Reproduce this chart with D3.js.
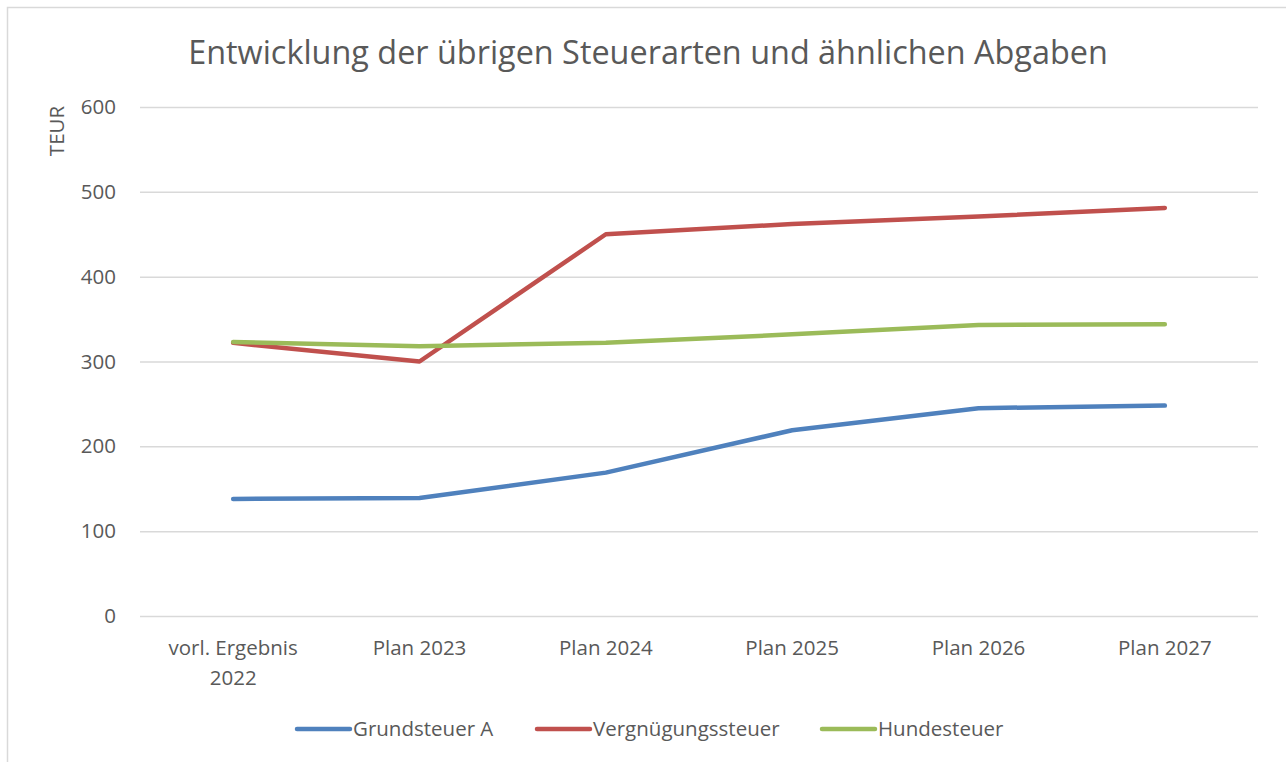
<!DOCTYPE html>
<html>
<head>
<meta charset="utf-8">
<script src="https://cdn.jsdelivr.net/npm/d3@7"></script>
<style>
  body { margin: 0; background: #fff; }
  svg { display: block; }
</style>
</head>
<body>
<svg id="chart"></svg>
<script>
// Daten
const categories = ["vorl. Ergebnis 2022", "Plan 2023", "Plan 2024", "Plan 2025", "Plan 2026", "Plan 2027"];
const grundsteuerA = [138, 139, 169, 219, 245, 248];
const vergnuegungssteuer = [322, 300, 450, 462, 471, 481];
const hundesteuer = [323, 318, 322, 332, 343, 344];
const seriesNames = ["Grundsteuer A", "Vergnügungssteuer", "Hundesteuer"];
const yTicks = [0, 100, 200, 300, 400, 500, 600];

const width = 1286, height = 762;
const margin = { left: 140, right: 28, top: 107, bottom: 146 };
const font = "'Open Sans', 'Liberation Sans', sans-serif";
const textColor = "#595959";
const colors = ["#4f81bd", "#c0504d", "#9bbb59"];

const svg = d3.select("#chart")
  .attr("width", width)
  .attr("height", height)
  .style("font-family", font);

// Rahmen
svg.append("rect")
  .attr("x", 7.5).attr("y", 7.5)
  .attr("width", 1300).attr("height", 800)
  .attr("fill", "none")
  .attr("stroke", "#d9d9d9")
  .attr("stroke-width", 1.5);

const x = d3.scaleBand()
  .domain(categories)
  .range([margin.left, width - margin.right]);

const y = d3.scaleLinear()
  .domain([0, 600])
  .range([height - margin.bottom, margin.top]);

// Gitterlinien + y-Achse
const yAxis = svg.append("g")
  .attr("transform", `translate(${margin.left},0)`)
  .call(d3.axisLeft(y).tickValues(yTicks).tickSize(-(width - margin.left - margin.right)).tickPadding(24));
yAxis.select(".domain").remove();
yAxis.selectAll(".tick line").attr("stroke", "#d9d9d9").attr("stroke-width", 1.5);
yAxis.selectAll(".tick text")
  .attr("fill", textColor)
  .style("font-size", "20.5px")
  .style("font-family", font);

// x-Achse Beschriftung
const xLabels = svg.append("g");
categories.forEach((c) => {
  const cx = x(c) + x.bandwidth() / 2;
  const lines = c === "vorl. Ergebnis 2022" ? ["vorl. Ergebnis", "2022"] : [c];
  const t = xLabels.append("text")
    .attr("x", cx)
    .attr("y", 655)
    .attr("text-anchor", "middle")
    .attr("fill", textColor)
    .style("font-size", "20.5px");
  lines.forEach((l, i) => {
    t.append("tspan").attr("x", cx).attr("dy", i === 0 ? 0 : 30).text(l);
  });
});

// Titel
svg.append("text")
  .attr("x", 648)
  .attr("y", 64)
  .attr("text-anchor", "middle")
  .attr("fill", textColor)
  .style("font-size", "32.4px")
  .text("Entwicklung der übrigen Steuerarten und ähnlichen Abgaben");

// y-Achsentitel
svg.append("text")
  .attr("transform", "translate(64,131) rotate(-90)")
  .attr("text-anchor", "middle")
  .attr("fill", textColor)
  .style("font-size", "20.5px")
  .text("TEUR");

// Linien
const data = [grundsteuerA, vergnuegungssteuer, hundesteuer];
const line = d3.line()
  .x((d, i) => x(categories[i]) + x.bandwidth() / 2)
  .y((d) => y(d));

svg.append("g")
  .selectAll("path")
  .data(data)
  .join("path")
  .attr("d", line)
  .attr("fill", "none")
  .attr("stroke", (d, i) => colors[i])
  .attr("stroke-width", 4.5)
  .attr("stroke-linecap", "round")
  .attr("stroke-linejoin", "round");

// Legende
const legendX = [297, 537, 822];
const legend = svg.append("g")
  .selectAll("g")
  .data(seriesNames)
  .join("g")
  .attr("transform", (d, i) => `translate(${legendX[i]},729)`);
legend.append("line")
  .attr("x1", 0).attr("x2", 53)
  .attr("stroke", (d, i) => colors[i])
  .attr("stroke-width", 4.5)
  .attr("stroke-linecap", "round");
legend.append("text")
  .attr("x", 56)
  .attr("dy", "0.35em")
  .attr("fill", textColor)
  .style("font-size", "20.5px")
  .text((d) => d);
</script>
</body>
</html>
